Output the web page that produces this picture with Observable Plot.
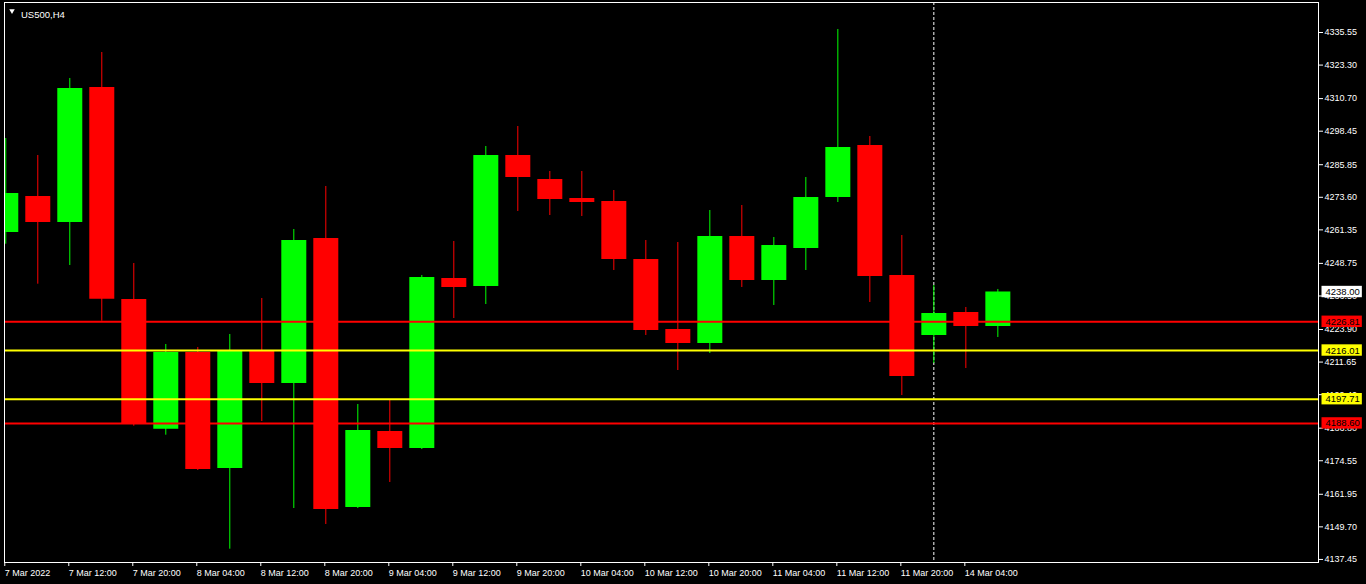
<!DOCTYPE html>
<html><head><meta charset="utf-8">
<script src="https://cdn.jsdelivr.net/npm/d3@7"></script>
<script src="https://cdn.jsdelivr.net/npm/@observablehq/plot@0.6"></script>
<style>
html,body{margin:0;padding:0;background:#000;}
#wrap{position:relative;width:1366px;height:584px;overflow:hidden;background:#000;}
#wrap .edgeL{position:absolute;left:0;top:0;width:1px;height:584px;background:#a0a0a0;}
#wrap .edgeB{position:absolute;left:0;top:582px;width:1366px;height:2px;background:#a0a0a0;}
</style></head><body><div id="wrap"><div class="edgeL"></div><div class="edgeB"></div></div>
<script>
// US500, H4 candles
const opens  = [4260.36,4273.90,4264.12,4314.87,4235.17,4186.41,4215.25,4171.64,4215.63,4203.60,4258.11,4156.98,4185.55,4179.16,4243.07,4240.06,4289.31,4280.29,4273.14,4272.02,4250.21,4223.90,4218.63,4258.86,4242.32,4254.35,4273.52,4293.07,4244.20,4221.64,4230.29,4225.02];
const highs  = [4295.70,4289.31,4318.26,4328.03,4248.71,4218.26,4217.13,4222.02,4235.55,4261.49,4277.66,4195.70,4197.20,4244.20,4256.98,4292.69,4300.21,4283.29,4283.29,4276.15,4257.35,4256.60,4268.63,4270.51,4258.48,4281.04,4336.68,4296.45,4259.23,4240.44,4232.17,4238.94];
const lows   = [4255.96,4240.93,4247.96,4227.02,4187.54,4184.16,4170.89,4141.30,4189.31,4156.60,4150.59,4156.60,4166.38,4178.78,4228.03,4233.29,4268.26,4266.75,4266.38,4246.08,4221.64,4208.48,4214.87,4239.69,4232.92,4246.08,4271.64,4234.05,4199.08,4211.11,4209.23,4220.89];
const closes = [4275.02,4264.12,4314.50,4235.29,4188.29,4215.25,4171.26,4215.63,4203.60,4257.35,4156.23,4185.93,4179.16,4243.44,4239.69,4289.31,4281.04,4272.77,4271.64,4250.21,4223.52,4218.63,4258.86,4242.32,4255.47,4273.52,4292.32,4243.82,4206.23,4229.91,4225.02,4238.00];

const xLabels = ["7 Mar 2022","7 Mar 12:00","7 Mar 20:00","8 Mar 04:00","8 Mar 12:00","8 Mar 20:00","9 Mar 04:00","9 Mar 12:00","9 Mar 20:00","10 Mar 04:00","10 Mar 12:00","10 Mar 20:00","11 Mar 04:00","11 Mar 12:00","11 Mar 20:00","14 Mar 04:00"];
const yTicks = [4335.55,4323.30,4310.70,4298.45,4285.85,4273.60,4261.35,4248.75,4236.50,4223.90,4211.65,4199.40,4186.80,4174.55,4161.95,4149.70,4137.45];

const levelValues = [4226.81,4216.01,4197.71,4188.60];
const levelColors = ["#ff0000","#ffff00","#ffff00","#ff0000"];
const currentPrice = [4238.00];
const separatorBar = [29];
const title = ["US500,H4"];

const bars = opens.map((o,i)=>({i, open:o, high:highs[i], low:lows[i], close:closes[i]}));
const GREEN = "#00ff00", RED = "#ff0000";
const col = d => d.close >= d.open ? GREEN : RED;
const levels = levelValues.map((v,k)=>({value:v, color:levelColors[k]}));
const tags = [...levels, {value:currentPrice[0], color:"#ffffff"}];
const xTickIdx = xLabels.map((_,k)=>2*k);

const chart = Plot.plot({
  width:1366, height:584,
  marginLeft:4, marginRight:48, marginTop:2, marginBottom:22,
  style:{background:"#000", color:"#fff", fontFamily:"'Liberation Sans', Arial, sans-serif", fontSize:"9px"},
  x:{type:"linear", domain:[-0.04, 41.02]},
  y:{domain:[4136.30, 4346.83]},
  color:{type:"identity"},
  marks:[
    Plot.ruleX(separatorBar, {x:d=>d, stroke:"#ffffff", strokeDasharray:"3,2"}),
    Plot.ruleX(bars, {x:"i", y1:"low", y2:"high", stroke:col, strokeWidth:1, clip:true}),
    Plot.ruleX(bars, {x:"i", y1:"open", y2:"close", stroke:col, strokeWidth:25, clip:true}),
    Plot.ruleY(levels, {y:"value", stroke:"color", strokeWidth:2}),
    Plot.frame({stroke:"#ffffff"}),
    Plot.axisY({anchor:"right", ticks:yTicks, tickFormat:d=>d.toFixed(2), tickSize:4, tickPadding:2, label:null, stroke:"#fff", fill:"#fff"}),
    Plot.axisX({anchor:"bottom", ticks:xTickIdx, tickFormat:i=>xLabels[i/2], tickSize:4, tickPadding:3, textAnchor:"start", dx:-1, label:null, stroke:"#fff", fill:"#fff"}),
    Plot.dot([0], {frameAnchor:"top-left", dx:7.5, dy:8.3, symbol:"triangle2", r:2.6, rotate:180, fill:"#fff", stroke:null}),
    Plot.text(title, {frameAnchor:"top-left", dx:16.5, dy:8.5, textAnchor:"start", fill:"#fff", fontSize:9.5}),
    Plot.text(tags, {y:"value", text:d=>d.value.toFixed(2), frameAnchor:"right", dx:7, textAnchor:"start", fill:"#000", fontSize:9.5})
  ]
});
document.getElementById("wrap").appendChild(chart);
chart.style.position = "absolute"; chart.style.left = "0"; chart.style.top = "0";

// colored boxes behind the price tags (the last text mark)
const NS = "http://www.w3.org/2000/svg";
const textGroups = chart.querySelectorAll('g[aria-label="text"]');
const tagGroup = textGroups[textGroups.length - 1];
tagGroup.querySelectorAll('text').forEach((t,k)=>{
  const b = t.getBBox();
  const r = document.createElementNS(NS, "rect");
  r.setAttribute("x", b.x - 4);
  r.setAttribute("y", b.y - 0.2);
  r.setAttribute("width", b.width + 6);
  r.setAttribute("height", b.height + 0.4);
  r.setAttribute("fill", tags[k].color);
  const tr = t.getAttribute("transform");
  if (tr) r.setAttribute("transform", tr);
  t.parentNode.insertBefore(r, t);
});
</script>
</body></html>
